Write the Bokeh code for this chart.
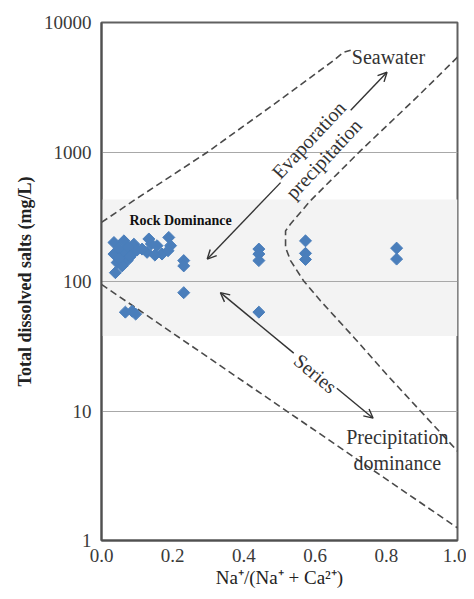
import numpy as np
from bokeh.plotting import figure
from bokeh.models import (Label, Arrow, OpenHead, BoxAnnotation, FixedTicker,
                          Range1d, NumeralTickFormatter)
from bokeh.embed import file_html
from bokeh.resources import INLINE

# ---- sample data: Na/(Na+Ca) ratio and TDS (mg/L) ----
ratio = [0.035, 0.063, 0.091, 0.035, 0.063, 0.086, 0.044, 0.072, 0.039, 0.058,
         0.050, 0.075, 0.100, 0.050, 0.080,
         0.133, 0.156, 0.189, 0.194, 0.128, 0.170, 0.114, 0.187, 0.140, 0.150,
         0.231, 0.231, 0.231,
         0.067, 0.086, 0.096,
         0.442, 0.442, 0.442, 0.442,
         0.573, 0.573, 0.573,
         0.829, 0.829]
tds = [200, 206, 194, 163, 168, 163, 140, 145, 117, 132,
       180, 185, 175, 150, 155,
       213, 189, 219, 189, 168, 163, 178, 173, 195, 160,
       145, 132, 82,
       58, 59, 56,
       178, 163, 145, 58,
       206, 165, 148,
       181, 149]

# ---- Gibbs diagram boundaries ----
upper_x = [0.0, 0.09, 0.297, 0.512, 0.60, 0.652, 0.68, 0.70]
upper_y = [286, 421, 995, 2650, 4000, 5090, 5900, 6100]
right_x = [1.0, 0.886, 0.728, 0.587, 0.531, 0.517, 0.517, 0.531, 0.568, 0.615, 0.709, 0.802, 0.896, 1.0]
right_y = [5400, 2650, 1025, 421, 278, 246, 183, 145, 101, 71, 37, 19, 10, 4.9]
lower_x = [0.0, 1.0]
lower_y = [95, 1.25]

# arrows: [head A, gap start, gap end, head B]
evap_x = [0.297, 0.503, 0.700, 0.802]
evap_y = [149, 580, 2100, 4130]
series_x = [0.334, 0.540, 0.661, 0.763]
series_y = [82, 28, 15, 8.8]

band_low, band_high = 38, 430
y_ticks = [1, 10, 100, 1000, 10000]
grid_ticks = [10, 100, 1000]
x_ticks = [0.0, 0.2, 0.4, 0.6, 0.8, 1.0]

FONT = "Liberation Serif"
DARK = "#3a3a3a"

p = figure(width=466, height=591, y_axis_type="log",
           x_range=Range1d(0, 1), y_range=Range1d(1, 10000),
           output_backend="svg", toolbar_location=None,
           min_border_left=101, min_border_right=9, min_border_top=22, min_border_bottom=51)

p.background_fill_color = "white"
p.border_fill_color = "white"
p.outline_line_color = "#606060"
p.outline_line_width = 2

band = BoxAnnotation(bottom=band_low, top=band_high, fill_color="#f3f3f3",
                     fill_alpha=1, line_color=None, level="image")
p.add_layout(band)

p.xgrid.grid_line_color = None
p.ygrid.ticker = FixedTicker(ticks=grid_ticks)
p.ygrid.grid_line_color = "#a8a8a8"
p.ygrid.grid_line_width = 1

for ax in (p.xaxis[0], p.yaxis[0]):
    ax.axis_line_color = "#505050"
    ax.axis_line_width = 2
    ax.major_tick_out = 0
    ax.major_tick_in = 0
    ax.minor_tick_out = 0
    ax.minor_tick_in = 0
    ax.minor_tick_line_color = None
    ax.major_tick_line_color = None
    ax.major_label_text_font = FONT
    ax.major_label_text_font_size = "19px"
    ax.major_label_text_color = DARK
    ax.axis_label_text_font = FONT
    ax.axis_label_text_color = "#222222"

p.yaxis.ticker = FixedTicker(ticks=y_ticks)
p.yaxis.formatter = NumeralTickFormatter(format="0")
p.yaxis.major_label_standoff = 10
p.yaxis.axis_label = "Total dissolved salts (mg/L)"
p.yaxis.axis_label_text_font_size = "18px"
p.yaxis.axis_label_text_font_style = "bold"
p.yaxis.axis_label_standoff = 6

p.xaxis.ticker = FixedTicker(ticks=x_ticks)
p.xaxis.formatter = NumeralTickFormatter(format="0.0")
p.xaxis.major_label_standoff = 8
p.xaxis.axis_label = "Na\u207a/(Na\u207a + Ca\u00b2\u207a)"
p.xaxis.axis_label_text_font_size = "19px"
p.xaxis.axis_label_text_font_style = "normal"
p.xaxis.axis_label_standoff = 2

dash_kw = dict(line_color="#4a4a4a", line_width=1.6, line_dash="7 4")
p.line(upper_x, upper_y, **dash_kw)
p.line(right_x, right_y, **dash_kw)
p.line(lower_x, lower_y, **dash_kw)

p.scatter(ratio, tds, marker="square", angle=np.pi / 4, size=8.5,
          fill_color="#4a7ebb", line_color="#4a7ebb")

arrow_kw = dict(line_color="#333333", line_width=1.4)
def two_way(xs, ys):
    p.add_layout(Arrow(end=OpenHead(size=9, line_color="#333333", line_width=1.4),
                       x_start=xs[1], y_start=ys[1], x_end=xs[0], y_end=ys[0], **arrow_kw))
    p.add_layout(Arrow(end=OpenHead(size=9, line_color="#333333", line_width=1.4),
                       x_start=xs[2], y_start=ys[2], x_end=xs[3], y_end=ys[3], **arrow_kw))

two_way(evap_x, evap_y)
two_way(series_x, series_y)

def lab(x, y, text, size="19px", angle=0.0, style="normal", color="#333333"):
    p.add_layout(Label(x=x, y=y, text=text, angle=angle, angle_units="deg",
                       text_font=FONT, text_font_size=size, text_font_style=style,
                       text_color=color, text_align="center", text_baseline="middle"))

lab(0.806, 5370, "Seawater", size="20px")
lab(0.222, 295, "Rock Dominance", size="14px", style="bold", color="#111111")
lab(0.582, 1243, "Evaporation", size="20px", angle=47)
lab(0.624, 887, "precipitation", size="20px", angle=47)
lab(0.601, 19.5, "Series", size="20px", angle=-40)
lab(0.831, 6.3, "Precipitation", size="20px")
lab(0.831, 3.96, "dominance", size="20px")

open("out.html", "w").write(file_html(p, INLINE))
